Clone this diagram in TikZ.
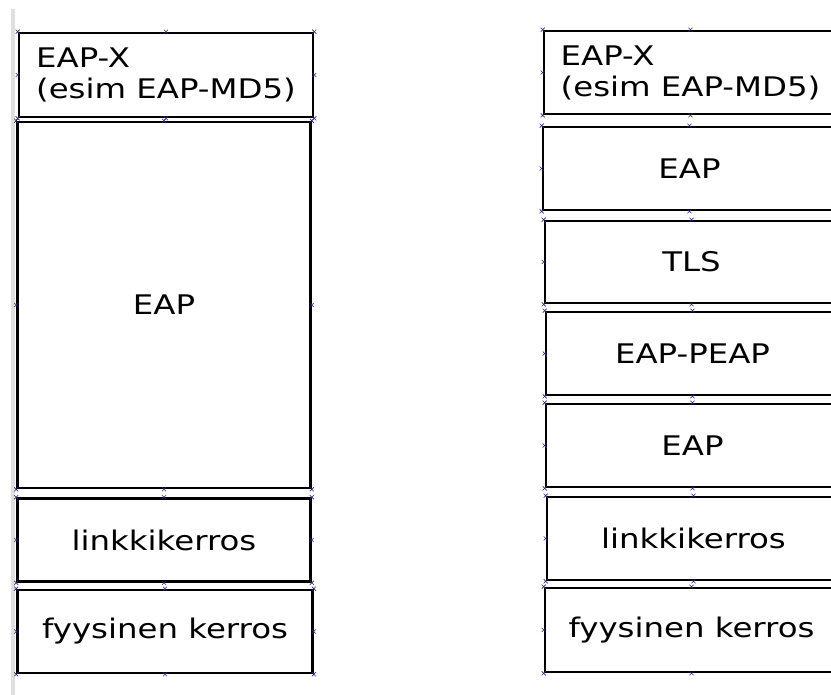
\documentclass[tikz,border=0pt]{standalone}
\usepackage{fontspec}
\setmainfont{DejaVu Sans}
\newfontfamily\layerfont[FakeStretch=1.2]{DejaVu Sans}
\usetikzlibrary{positioning}
\tikzstyle{layer} = [draw=black, fill=white, line width=2.6pt, rectangle, minimum width=293pt, minimum height=83pt, inner sep=0pt, font=\layerfont\fontsize{27}{31}\selectfont]
\tikzstyle{cpmark} = [draw={rgb,255:red,40;green,40;blue,120}, line width=0.6pt]
\newcommand{\cpts}[1]{%
  \foreach \a in {north west,north,north east,east,south east,south,south west,west}
    {\draw[cpmark] (#1.\a) +(-2,-2) -- +(2,2) +(-2,2) -- +(2,-2);}}

\begin{document}
\begin{tikzpicture}[x=1pt, y=-1pt]
\useasboundingbox (0,0) rectangle (831,695);
\clip (0,0) rectangle (831,695);
\draw[gray!25, line width=4pt] (13,9) -- (13,695);
% vasen pino
\node [layer, minimum width=294pt, minimum height=84pt, align=left] (leapx) at (166,75) {EAP-X\\(esim EAP-MD5)};
\node [layer, minimum height=366pt] (leap) at (164,305) {EAP};
\node [layer] (llink) at (164,540) {linkkikerros};
\node [layer, minimum width=295pt] (lphys) at (165,631.5) {fyysinen kerros};
% oikea pino
\node [layer, align=left] (reapx) at (690.5,72.5) {EAP-X\\(esim EAP-MD5)};
\node [layer] (reap) at (689.5,168.5) {EAP};
\node [layer, minimum height=82pt] (rtls) at (691.5,262) {TLS};
\node [layer] (rpeap) at (692.5,353.5) {EAP-PEAP};
\node [layer] (reapin) at (692.5,445.5) {EAP};
\node [layer] (rlink) at (693.5,538.5) {linkkikerros};
\node [layer, minimum height=84pt] (rphys) at (691.5,630) {fyysinen kerros};
\foreach \b in {leapx,leap,llink,lphys,reapx,reap,rtls,rpeap,reapin,rlink,rphys}
  {\cpts{\b}}
\end{tikzpicture}
\end{document}
